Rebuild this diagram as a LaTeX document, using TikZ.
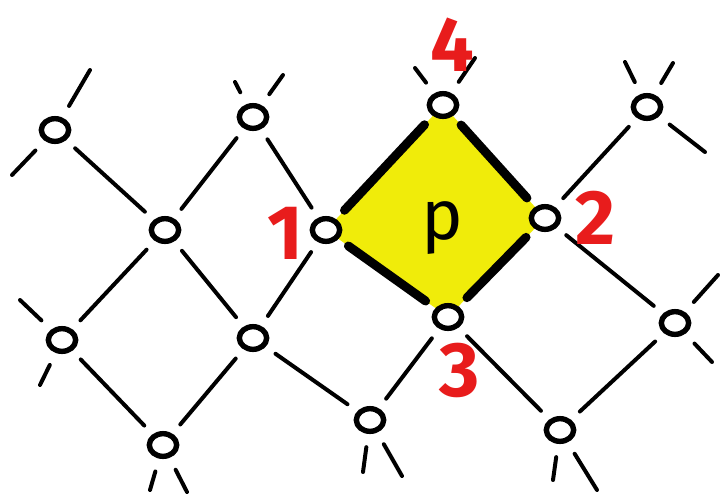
\documentclass[tikz,border=0pt]{standalone}
\usepackage{fontspec}
\setsansfont{Fira Sans}
\usepackage{tikz}
\usetikzlibrary{shapes.geometric}
\usetikzlibrary{backgrounds}

\definecolor{plaqyellow}{RGB}{240,236,10}
\definecolor{markred}{RGB}{232,28,28}

\begin{document}
\begin{tikzpicture}[
  x=0.03cm, y=-0.03cm,
  site/.style={ellipse,draw,fill=white,line width=4.6pt,minimum width=8.2mm,minimum height=6.8mm,inner sep=0pt},
  bond/.style={line width=3.4pt,line cap=round,shorten <=3.6mm,shorten >=3.6mm},
  plaqbond/.style={bond,line width=7.6pt},
  stub/.style={line width=3.4pt,line cap=round,shorten <=4mm},
  num/.style={text=markred,font=\sffamily\bfseries\fontsize{66}{66}\selectfont,inner sep=0pt}]
\useasboundingbox (0,0) rectangle (721,493);

% lattice sites
\node[site] (a1) at (55,130) {};
\node[site] (a2) at (253,117) {};
\node[site] (a3) at (443,105) {};
\node[site] (a4) at (647,107) {};
\node[site] (b1) at (165,230) {};
\node[site] (b2) at (326,230) {};
\node[site] (b3) at (545,218) {};
\node[site] (c1) at (62,340) {};
\node[site] (c2) at (253,338) {};
\node[site] (c3) at (448,317) {};
\node[site] (c4) at (675,323) {};
\node[site] (d1) at (163,445) {};
\node[site] (d2) at (370,420) {};
\node[site] (d3) at (560,430) {};

% plaquette
\begin{scope}[on background layer]
  \fill[plaqyellow] (a3.center) -- (b3.center) -- (c3.center) -- (b2.center) -- cycle;
\end{scope}
\node[font=\sffamily\fontsize{60}{60}\selectfont] (plab) at (442,228) {p};

% bonds
\foreach \u/\v in {a1/b1,b1/a2,a2/b2,b3/a4,b3/c4,c4/d3,c3/d2,c3/d3,
                   b1/c2,c2/b2,c1/b1,c1/d1,d1/c2,c2/d2}
  \draw[bond] (\u) -- (\v);
\foreach \u/\v in {b2/a3,a3/b3,b3/c3,c3/b2}
  \draw[plaqbond] (\u) -- (\v);

% loose ends at the border
\coordinate (a1ne) at (90,70);   \coordinate (a1sw) at (12,175);
\coordinate (a2nw) at (235,82);  \coordinate (a2ne) at (283,75);
\coordinate (a3nw) at (415,68);  \coordinate (a3ne) at (475,58);
\coordinate (a4nw) at (625,62);  \coordinate (a4ne) at (673,63);
\coordinate (a4se) at (705,152);
\coordinate (c1nw) at (20,300);  \coordinate (c1sw) at (40,385);
\coordinate (c4ne) at (718,275); \coordinate (c4se) at (712,362);
\coordinate (d1sw) at (150,490); \coordinate (d1se) at (187,492);
\coordinate (d2sw) at (363,472); \coordinate (d2se) at (402,476);
\coordinate (d3sw) at (553,480); \coordinate (d3se) at (597,490);
\foreach \u/\v in {a1/a1ne,a1/a1sw,a2/a2nw,a2/a2ne,a3/a3nw,a3/a3ne,
                   a4/a4nw,a4/a4ne,a4/a4se,c1/c1nw,c1/c1sw,c4/c4ne,c4/c4se,
                   d1/d1sw,d1/d1se,d2/d2sw,d2/d2se,d3/d3sw,d3/d3se}
  \draw[stub] (\u) -- (\v);

% corner numbers
\node[num] (n1) at (285,233) {1};
\node[num] (n2) at (595,218) {2};
\node[num] (n3) at (460,370) {3};
\node[num] (n4) at (452,45) {4};
\end{tikzpicture}
\end{document}
